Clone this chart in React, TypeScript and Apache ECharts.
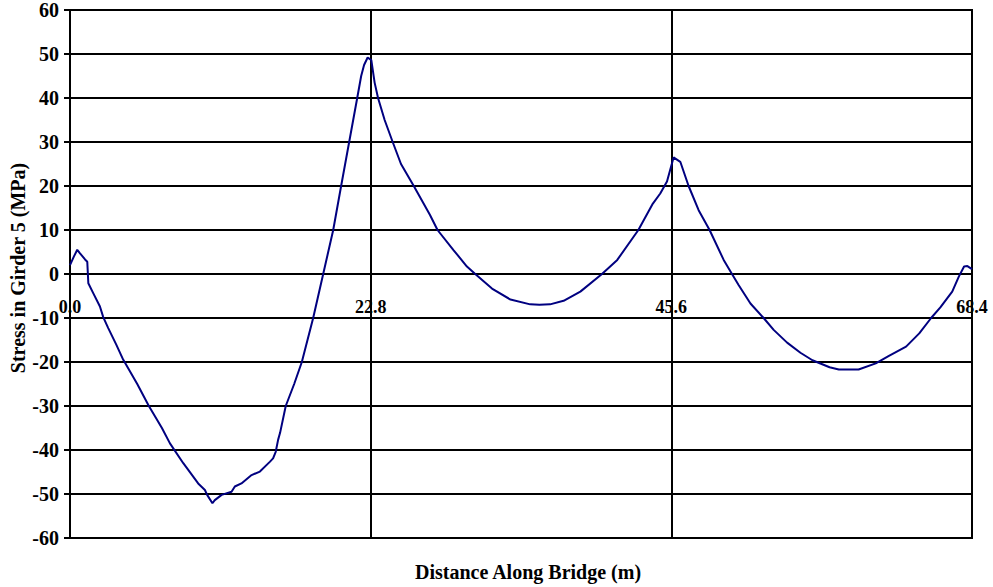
import React, { useEffect, useRef } from "react";
import * as echarts from "echarts";

const distance = [
  0, 0.3, 0.55, 0.76, 1.14, 1.31, 1.39, 1.77, 2.27, 2.52, 2.9, 3.5, 4.04, 5.1, 5.98, 6.97, 7.58, 8.59,
  9.72, 10.23, 10.4, 10.8, 10.98, 11.5, 12.25, 12.5, 13.0, 13.77, 14.4, 15.15, 15.4, 15.6, 15.78, 15.93,
  16.36, 17.0, 17.58, 18.44, 19.2, 19.96, 20.56, 21.17, 21.78, 22.08, 22.3, 22.57, 22.85, 23.1, 23.36,
  23.86, 24.47, 25.1, 26.07, 27.3, 27.87, 29.08, 30.1, 30.73, 32.0, 33.4, 34.9, 35.6, 36.4, 37.43, 38.7,
  40.34, 41.5, 43.1, 44.2, 44.76, 45.27, 45.77, 46.28, 46.91, 47.67, 48.5, 49.57, 50.2, 50.7, 51.6, 52.6,
  53.36, 54.38, 55.39, 56.3, 57.6, 58.3, 59.8, 61.1, 62.1, 63.4, 64.4, 65.3, 66.0, 66.9, 67.4, 67.8, 68.05,
  68.4,
];

const stress = [
  2.0, 4.0, 5.5, 4.7, 3.3, 2.8, -2.1, -4.4, -7.4, -9.8, -12.3, -16.0, -19.5, -25, -30, -35, -38.5, -43,
  -47.6, -49.1, -50.2, -52.1, -51.4, -50.2, -49.5, -48.3, -47.6, -45.7, -44.9, -42.7, -41.9, -40.4, -37.7,
  -36.1, -30, -25, -20, -10, 0, 10, 20, 30, 40, 45, 47.5, 49.2, 48.6, 43.5, 40, 35, 30, 25, 20, 13.4, 10,
  5.45, 1.7, 0, -3.3, -5.8, -6.9, -7.0, -6.9, -6.1, -4.0, 0, 3.2, 10, 16, 18.3, 21.0, 26.5, 25.5, 20, 14.5,
  10, 3.2, 0, -2.5, -6.7, -10, -12.7, -15.6, -17.9, -19.6, -21.2, -21.7, -21.7, -20.3, -18.6, -16.5, -13.5,
  -10, -7.6, -4.0, -0.6, 1.7, 1.8, 1.1,
];

const xTitle = "Distance Along Bridge (m)";
const yTitle = "Stress in Girder 5 (MPa)";

const FONT = "'Liberation Serif', 'Times New Roman', serif";

export default function App() {
  const ref = useRef<HTMLDivElement>(null);

  useEffect(() => {
    if (!ref.current) return;
    const chart = echarts.init(ref.current, undefined, { renderer: "svg" });
    const data = distance.map((d, i) => [d, stress[i]]);
    chart.setOption({
      animation: false,
      backgroundColor: "#ffffff",
      grid: {
        left: 70,
        right: 21,
        top: 10,
        bottom: 49,
        show: true,
        borderColor: "#000",
        borderWidth: 2,
      },
      xAxis: {
        type: "value",
        min: 0,
        max: 68.4,
        interval: 22.8,
        offset: -264,
        axisLine: { show: true, onZero: false, lineStyle: { color: "#000", width: 2 } },
        axisTick: { show: false },
        axisLabel: {
          margin: 24,
          color: "#000",
          fontFamily: FONT,
          fontWeight: "bold",
          fontSize: 18,
          formatter: (v: number) => v.toFixed(1),
        },
        splitLine: { show: true, lineStyle: { color: "#000", width: 2 } },
      },
      yAxis: {
        type: "value",
        min: -60,
        max: 60,
        interval: 10,
        axisLine: { show: true, onZero: false, lineStyle: { color: "#000", width: 2 } },
        axisTick: { show: true, inside: false, length: 6, lineStyle: { color: "#000", width: 2 } },
        axisLabel: {
          margin: 11,
          color: "#000",
          fontFamily: FONT,
          fontWeight: "bold",
          fontSize: 20,
        },
        splitLine: { show: true, lineStyle: { color: "#000", width: 2 } },
      },
      graphic: [
        {
          type: "text",
          x: 18,
          y: 268,
          rotation: Math.PI / 2,
          style: {
            text: yTitle,
            fill: "#000",
            font: `bold 20px ${FONT}`,
            textAlign: "center",
            textVerticalAlign: "middle",
          },
        },
        {
          type: "text",
          x: 528,
          y: 572,
          style: {
            text: xTitle,
            fill: "#000",
            font: `bold 20px ${FONT}`,
            textAlign: "center",
            textVerticalAlign: "middle",
          },
        },
      ],
      series: [
        {
          type: "line",
          data,
          showSymbol: false,
          smooth: false,
          lineStyle: { color: "#000080", width: 2 },
          z: 5,
        },
      ],
    });
    return () => chart.dispose();
  }, []);

  return (
    <div
      ref={ref}
      style={{ position: "fixed", left: 0, top: 0, width: 993, height: 587 }}
    />
  );
}
